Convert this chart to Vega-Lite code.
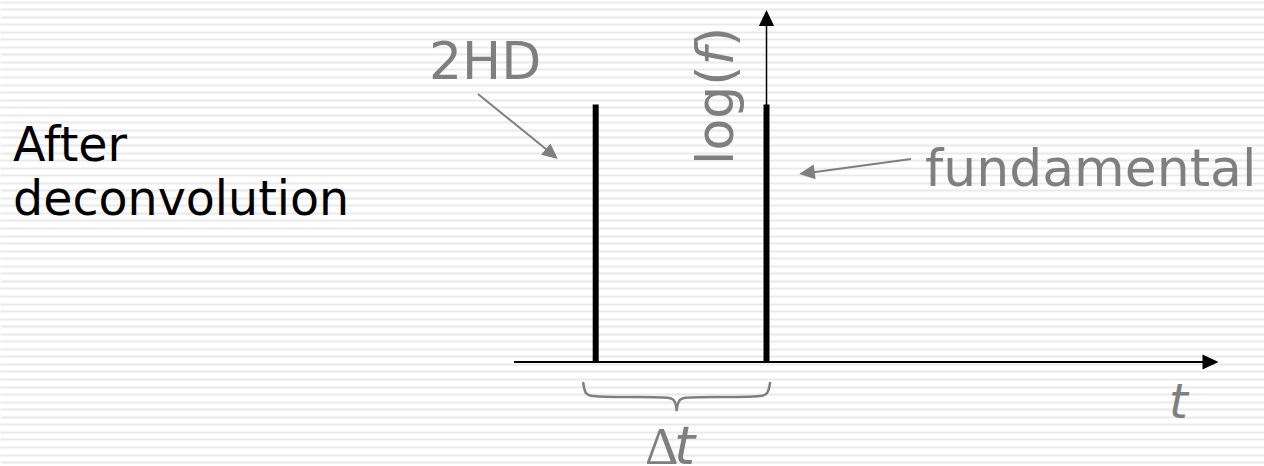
{
  "$schema": "https://vega.github.io/schema/vega-lite/v6.json",
  "width": 1264,
  "height": 466,
  "autosize": {"type": "none"},
  "padding": 0,
  "background": "white",
  "config": {"view": {"stroke": null}},
  "resolve": {"scale": {"y": "independent"}, "axis": {"y": "independent"}},
  "layer": [
    {
      "data": {"values": [{"s": 0}]},
      "mark": {"type": "point", "opacity": 0},
      "encoding": {
        "y": {
          "field": "s",
          "type": "quantitative",
          "scale": {"domain": [-0.523, 61.199], "nice": false, "zero": false},
          "axis": {"grid": true, "gridColor": "#e9e9e9", "gridWidth": 2, "tickCount": 62, "labels": false, "ticks": false, "domain": false, "title": null}
        }
      }
    },
    {
      "encoding": {
        "x": {"field": "x", "type": "quantitative", "scale": {"domain": [0, 1264], "nice": false, "zero": false}, "axis": null},
        "y": {"field": "y", "type": "quantitative", "scale": {"domain": [0, 466], "reverse": true, "nice": false, "zero": false}, "axis": null}
      },
      "layer": [
        {
          "data": {"values": [{"x": 766.5, "y": 362, "y2": 24}]},
          "mark": {"type": "rule", "color": "black", "strokeWidth": 1.5},
          "encoding": {"y2": {"field": "y2"}}
        },
        {
          "data": {"values": [{"x": 514, "x2": 1205, "y": 362}]},
          "mark": {"type": "rule", "color": "black", "strokeWidth": 2},
          "encoding": {"x2": {"field": "x2"}}
        },
        {
          "data": {"values": [{"x": 595.7, "y": 362, "y2": 104.5}, {"x": 766.5, "y": 362, "y2": 104.5}]},
          "mark": {"type": "rule", "color": "black", "strokeWidth": 6, "strokeCap": "butt"},
          "encoding": {"y2": {"field": "y2"}}
        },
        {
          "data": {"values": [{"x": 478, "y": 94, "x2": 552, "y2": 154}, {"x": 911, "y": 159, "x2": 808, "y2": 173}]},
          "mark": {"type": "rule", "color": "#7f7f7f", "strokeWidth": 2},
          "encoding": {"x2": {"field": "x2"}, "y2": {"field": "y2"}}
        },
        {
          "data": {"values": [{"x": 766.5, "y": 18, "a": 0}, {"x": 1210.5, "y": 362, "a": 90}]},
          "mark": {"type": "point", "shape": "M0,-1L0.95,1L-0.95,1Z", "filled": true, "color": "black", "opacity": 1, "size": 256},
          "encoding": {"angle": {"field": "a", "type": "quantitative", "scale": null}}
        },
        {
          "data": {"values": [{"x": 551.8, "y": 154, "a": 129.1}, {"x": 806.9, "y": 172.9, "a": 262.4}]},
          "mark": {"type": "point", "shape": "M0,-1L0.95,1L-0.95,1Z", "filled": true, "color": "#7f7f7f", "opacity": 1, "size": 240},
          "encoding": {"angle": {"field": "a", "type": "quantitative", "scale": null}}
        },
        {
          "data": {"values": [
            {"half": "left", "x": 583.3, "y": 383},
            {"half": "left", "x": 585, "y": 395},
            {"half": "left", "x": 594, "y": 397},
            {"half": "left", "x": 664, "y": 397},
            {"half": "left", "x": 675, "y": 398},
            {"half": "left", "x": 676.7, "y": 410},
            {"half": "right", "x": 676.7, "y": 410},
            {"half": "right", "x": 678.5, "y": 398},
            {"half": "right", "x": 689, "y": 397},
            {"half": "right", "x": 759, "y": 397},
            {"half": "right", "x": 768, "y": 395},
            {"half": "right", "x": 770, "y": 383}
          ]},
          "mark": {"type": "line", "color": "#7f7f7f", "strokeWidth": 2.5, "interpolate": "basis", "strokeCap": "round"},
          "encoding": {"detail": {"field": "half"}}
        },
        {
          "data": {"values": [{"x": 429, "y": 78.5, "label": "2HD"}, {"x": 925, "y": 186, "label": "fundamental"}]},
          "mark": {"type": "text", "font": "DejaVu Sans", "fontSize": 52, "color": "#7f7f7f", "align": "left", "baseline": "alphabetic"},
          "encoding": {"text": {"field": "label"}}
        },
        {
          "data": {"values": [{"x": 13, "y": 161, "label": "After"}, {"x": 13, "y": 215, "label": "deconvolution"}]},
          "mark": {"type": "text", "font": "DejaVu Sans", "fontSize": 47.5, "color": "black", "align": "left", "baseline": "alphabetic"},
          "encoding": {"text": {"field": "label"}}
        },
        {
          "data": {"values": [{"x": 733, "y": 165, "label": "log("}, {"x": 733, "y": 47.1, "label": ")"}]},
          "mark": {"type": "text", "font": "DejaVu Sans", "fontSize": 52, "color": "#7f7f7f", "align": "left", "baseline": "alphabetic", "angle": 270},
          "encoding": {"text": {"field": "label"}}
        },
        {
          "data": {"values": [{"x": 733, "y": 65.4, "label": "f"}]},
          "mark": {"type": "text", "font": "DejaVu Sans", "fontStyle": "italic", "fontSize": 52, "color": "#7f7f7f", "align": "left", "baseline": "alphabetic", "angle": 270},
          "encoding": {"text": {"field": "label"}}
        },
        {
          "data": {"values": [{"x": 645, "y": 464, "label": "Δ"}]},
          "mark": {"type": "text", "font": "Liberation Serif", "fontSize": 52, "color": "#7f7f7f", "align": "left", "baseline": "alphabetic"},
          "encoding": {"text": {"field": "label"}}
        },
        {
          "data": {"values": [{"x": 674, "y": 464, "label": "t"}]},
          "mark": {"type": "text", "font": "DejaVu Sans", "fontStyle": "italic", "fontSize": 54, "color": "#7f7f7f", "align": "left", "baseline": "alphabetic"},
          "encoding": {"text": {"field": "label"}}
        },
        {
          "data": {"values": [{"x": 1169, "y": 418, "label": "t"}]},
          "mark": {"type": "text", "font": "DejaVu Sans", "fontStyle": "italic", "fontSize": 48, "color": "#7f7f7f", "align": "left", "baseline": "alphabetic"},
          "encoding": {"text": {"field": "label"}}
        }
      ]
    }
  ]
}
